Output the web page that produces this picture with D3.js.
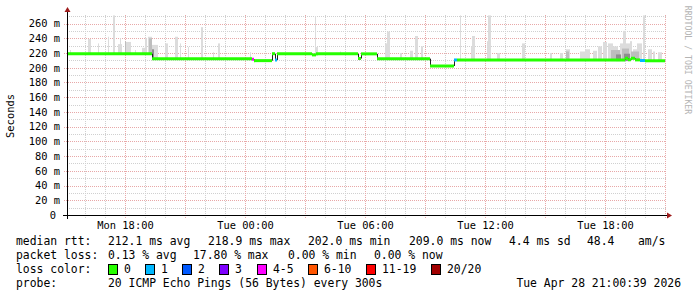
<!DOCTYPE html>
<html>
<head>
<meta charset="utf-8">
<script src="https://cdn.jsdelivr.net/npm/d3@7"></script>
<style>
  html, body { margin: 0; padding: 0; background: #fff; }
  svg { display: block; }
  text { font-family: "DejaVu Sans Mono", monospace; }
</style>
</head>
<body>
<script>
'use strict';

// hours counted from Mon Apr 27 2026 00:00
var startHour = 15.1,
    endHour   = 45.0;

// median rtt, one entry per step (hour it starts, ms, loss class)
var medianHours = [15.1, 19.35, 24.35, 24.45, 25.35, 25.5, 25.6, 27.35, 27.55, 29.65, 29.8, 30.6, 33.25, 34.45, 34.6, 43.0, 43.15, 43.3, 43.5, 43.75, 44.0];
var medianMs    = [218.9, 212.3, 211.5, 209.6, 219.0, 210.5, 218.8, 217.4, 218.8, 212.5, 218.8, 212.3, 202.3, 210.5, 210.5, 212.8, 210.8, 212.8, 210.6, 209.8, 209.4];
var medianLoss  = [0, 0, 4, 0, 0, 1, 0, 0, 0, 0, 0, 0, 0, 1, 0, 0, 0, 0, 0, 1, 0];

// smoke: spread of the single pings (light layer)
var smokeFrom = [15.25, 16.15, 16.65, 17.15, 17.4, 17.65, 17.75, 18.0, 18.5, 18.85, 19.0, 19.15, 19.35, 20.0, 20.5, 20.75, 21.15, 21.8, 22.4, 22.65, 24.25, 27.5, 27.5, 28.75, 31.0, 31.1, 31.75, 32.25, 32.5, 32.8, 34.75, 35.3, 35.35, 36.1, 36.15, 36.6, 37.85, 39.25, 39.75, 40.05, 40.75, 41.0, 41.4, 41.65, 41.9, 42.15, 42.4, 42.75, 42.9, 43.05, 43.25, 43.4, 43.6, 43.9, 44.15, 44.4, 44.65];
var smokeTo   = [15.3, 16.3, 16.7, 17.2, 17.5, 17.85, 17.8, 18.3, 18.55, 19.1, 19.1, 19.35, 19.65, 20.15, 20.65, 20.8, 21.2, 21.9, 22.45, 22.75, 24.3, 27.55, 27.65, 28.8, 31.25, 31.25, 31.85, 32.4, 32.65, 32.9, 34.8, 35.5, 35.5, 36.3, 36.3, 36.75, 38.0, 39.35, 39.9, 40.25, 41.0, 41.25, 41.6, 41.85, 42.1, 42.4, 42.65, 42.9, 43.05, 43.25, 43.35, 43.6, 43.85, 44.0, 44.35, 44.5, 44.85];
var smokeTop  = [224, 239, 233, 242, 271, 232, 240, 235, 224, 227, 240, 242, 231, 233, 242, 233, 228, 255, 221, 233, 221, 270, 228, 222, 233, 249, 220, 223, 243, 229, 271, 229, 243, 236, 271, 220, 233, 220, 220, 225, 222, 225, 223, 229, 235, 233, 229, 233, 250, 233, 236, 225, 233, 271, 225, 222, 221];

// denser smoke
var midFrom = [18.0, 19.2, 40.05, 42.3, 42.85, 43.3];
var midTo   = [18.05, 19.35, 40.2, 42.75, 43.2, 43.7];
var midTop  = [236, 240, 222, 224, 226, 222];
var deepFrom = [19.35, 30.55, 42.55, 42.95];
var deepTo   = [19.45, 30.65, 42.8, 43.25];
var deepTop  = [225, 218, 218, 219];

var yTicks = d3.range(0, 261, 20);

var lossColors = ["#26ff00", "#00b8ff", "#0059ff", "#7e00ff", "#ff00ff", "#ff5500", "#ff0000", "#a10000"];
var lossLabels = ["0", "1", "2", "3", "4-5", "6-10", "11-19", "20/20"];

var rttStats  = ["212.1 ms avg", "218.9 ms max", "202.0 ms min", "209.0 ms now", "4.4 ms sd", "48.4", "am/s"];
var lossStats = ["0.13 % avg", "17.80 % max", "0.00 % min", "0.00 % now"];

var W = 697, H = 297,
    pL = 67, pR = 665, pT = 15, pB = 215;

var base = new Date(2026, 3, 27, 0, 0, 0).getTime();
function hourDate(h) { return new Date(base + h * 3600000); }

var x = d3.scaleTime().domain([hourDate(startHour), hourDate(endHour)]).range([pL, pR]),
    y = d3.scaleLinear().domain([0, 260]).range([pB, pB - 260 * 0.7365]);

var svg = d3.select("body").append("svg")
    .attr("width", W).attr("height", H);

function px(v) { return Math.round(v) + 0.5; }

// clip for the plot area
svg.append("clipPath").attr("id", "plot")
  .append("rect")
    .attr("x", pL).attr("y", pT)
    .attr("width", pR - pL).attr("height", pB - pT);

// grid: horizontal
var grid = svg.append("g");
d3.range(10, 271, 10).forEach(function(v) {
    var major = v % 20 === 0;
    grid.append("line")
        .attr("x1", pL - (major ? 3 : 0)).attr("x2", pR + 1)
        .attr("y1", px(y(v))).attr("y2", px(y(v)))
        .attr("stroke", major ? "#e8a8a8" : "#d0d0d0")
        .attr("stroke-dasharray", "1,1");
});

// grid: vertical (hourly, every 3h red)
d3.timeHour.range(hourDate(startHour), hourDate(endHour + 0.01)).forEach(function(d) {
    var major = d.getHours() % 3 === 0;
    grid.append("line")
        .attr("x1", px(x(d))).attr("x2", px(x(d)))
        .attr("y1", pT).attr("y2", pB + 3)
        .attr("stroke", major ? "#e8a8a8" : "#d0d0d0")
        .attr("stroke-dasharray", "1,1");
});

// median lookup for the bottom of the smoke
function medianAt(h) {
    var i = d3.bisectRight(medianHours, h) - 1;
    return medianMs[Math.max(0, i)];
}

var plot = svg.append("g").attr("clip-path", "url(#plot)");

function drawSmoke(from, to, tops, color) {
    plot.append("g").selectAll("rect")
        .data(from.map(function(f, i) { return {f: f, t: to[i], top: tops[i]}; }))
      .enter().append("rect")
        .attr("x", function(d) { return x(hourDate(d.f)); })
        .attr("width", function(d) { return Math.max(1, x(hourDate(d.t)) - x(hourDate(d.f))); })
        .attr("y", function(d) { return y(d.top); })
        .attr("height", function(d) { return y(medianAt(d.f) - 1.5) - y(d.top); })
        .attr("fill", color);
}
drawSmoke(smokeFrom, smokeTo, smokeTop, "#dcdcdc");
drawSmoke(midFrom, midTo, midTop, "#bdbdbd");
drawSmoke(deepFrom, deepTo, deepTop, "#8e8e8e");

// median line: dark risers, coloured steps
var steps = medianHours.map(function(h, i) {
    return {h0: h, h1: i < medianHours.length - 1 ? medianHours[i + 1] : endHour,
            v: medianMs[i], loss: medianLoss[i]};
});
steps.forEach(function(s, i) {
    if (i === 0) return;
    plot.append("line")
        .attr("x1", px(x(hourDate(s.h0)))).attr("x2", px(x(hourDate(s.h0))))
        .attr("y1", y(steps[i - 1].v)).attr("y2", y(s.v))
        .attr("stroke", "#222").attr("stroke-width", 1);
});
plot.append("g").selectAll("line")
    .data(steps)
  .enter().append("line")
    .attr("x1", function(d) { return x(hourDate(d.h0)); })
    .attr("x2", function(d) { return x(hourDate(d.h1)); })
    .attr("y1", function(d) { return y(d.v); })
    .attr("y2", function(d) { return y(d.v); })
    .attr("stroke", function(d) { return lossColors[d.loss]; })
    .attr("stroke-width", 3);

// axes
var xAxis = d3.axisBottom(x)
    .tickValues(d3.timeHour.range(hourDate(startHour), hourDate(endHour)).filter(function(d) { return d.getHours() % 6 === 0; }))
    .tickFormat(d3.timeFormat("%a %H:%M"))
    .tickSize(0).tickPadding(7);
svg.append("g")
    .attr("transform", "translate(0," + pB + ")")
    .call(xAxis)
    .call(function(g) { g.select(".domain").remove(); })
    .selectAll("text")
    .attr("font-family", "DejaVu Sans Mono").attr("font-size", "10.4px").attr("fill", "#000");

var yAxis = d3.axisLeft(y)
    .tickValues(yTicks)
    .tickFormat(function(v) { return v === 0 ? "0" : v + " m"; })
    .tickSize(0).tickPadding(7);
var ya = svg.append("g")
    .attr("transform", "translate(" + pL + ",0)")
    .call(yAxis)
    .call(function(g) { g.select(".domain").remove(); });
ya.selectAll("text")
    .attr("font-family", "DejaVu Sans Mono").attr("font-size", "10.4px").attr("fill", "#000")
    .attr("dx", function(v) { return v === 0 ? -4 : 0; });

// axis lines and arrows
svg.append("line")
    .attr("x1", pL - 4).attr("x2", pR + 3)
    .attr("y1", pB + 0.5).attr("y2", pB + 0.5)
    .attr("stroke", "#000");
svg.append("line")
    .attr("x1", pL + 0.5).attr("x2", pL + 0.5)
    .attr("y1", pB + 4).attr("y2", pT - 3)
    .attr("stroke", "#000");
svg.append("path")
    .attr("d", "M" + (pR + 2) + "," + (pB - 2.5) + "L" + (pR + 7) + "," + (pB + 0.5) + "L" + (pR + 2) + "," + (pB + 3.5) + "Z")
    .attr("fill", "#9e1b1b");
svg.append("path")
    .attr("d", "M" + (pL - 2.5) + "," + (pT - 3) + "L" + (pL + 0.5) + "," + (pT - 8) + "L" + (pL + 3.5) + "," + (pT - 3) + "Z")
    .attr("fill", "#9e1b1b");

// unit title
svg.append("text")
    .attr("transform", "translate(14,116) rotate(-90)")
    .attr("text-anchor", "middle")
    .attr("font-size", "10.4px")
    .text("Seconds");

// watermark
svg.append("text")
    .attr("transform", "translate(685,60) rotate(90)")
    .attr("text-anchor", "middle")
    .attr("font-size", "8.2px")
    .attr("fill", "#b4b4b4")
    .text("RRDTOOL / TOBI OETIKER");

// legend block
var lg = svg.append("g").attr("font-size", "11.4px").attr("fill", "#000");
function put(tx, ty, s) {
    lg.append("text").attr("x", tx).attr("y", ty).attr("xml:space", "preserve").text(s);
}
put(16, 245, "median rtt:");
[108, 208, 308, 409, 509, 587, 638].forEach(function(tx, i) { put(tx, 245, rttStats[i]); });
put(16, 259, "packet loss:");
[108, 193, 288, 374].forEach(function(tx, i) { put(tx, 259, lossStats[i]); });
put(16, 273, "loss color:");
var boxX = [108, 145, 182, 219, 257, 308, 366, 431];
lossLabels.forEach(function(l, i) {
    lg.append("rect")
        .attr("x", boxX[i] + 0.5).attr("y", 264.5)
        .attr("width", 9).attr("height", 10)
        .attr("fill", lossColors[i]).attr("stroke", "#000");
    put(boxX[i] + 16, 273, l);
});
put(16, 287, "probe:");
put(108, 287, "20 ICMP Echo Pings (56 Bytes) every 300s");
lg.append("text").attr("x", 681).attr("y", 287).attr("text-anchor", "end")
    .text("Tue Apr 28 21:00:39 2026");
</script>
</body>
</html>
